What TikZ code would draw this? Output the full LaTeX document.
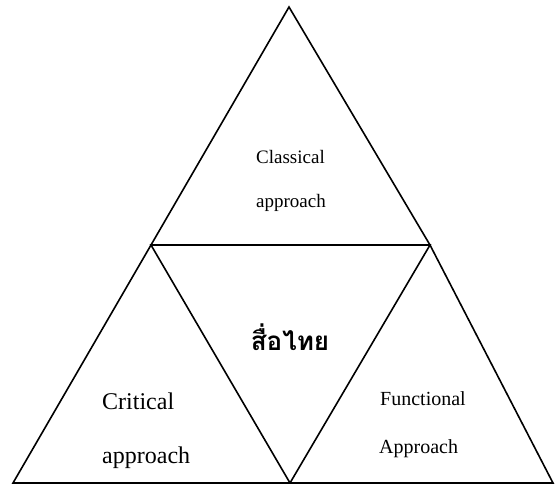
\documentclass[tikz,border=0pt]{standalone}
\usepackage{fontspec}
\setmainfont{Liberation Serif}
\newfontfamily\thaifont[Script=Thai]{Loma}
\begin{document}
\begin{tikzpicture}[x=1pt,y=-1pt,
  edge/.style={line width=1.6pt,line join=miter},
  word/.style={anchor=base west,inner sep=0pt}]
  \useasboundingbox (0,0) rectangle (555,483);

  % Corners of the triangles
  \coordinate (apex) at (289,7);
  \coordinate (midL) at (151,245);
  \coordinate (midR) at (430,245);
  \coordinate (botL) at (13,483);
  \coordinate (botM) at (290,483);
  \coordinate (botR) at (553,483);

  % Outer triangle and the inner one
  \draw[edge] (apex) -- (midL) -- (botL) -- (botR) -- (midR) -- cycle;
  \draw[edge] (midL) -- (midR) -- (botM) -- cycle;

  % Labels
  \node[word,font=\fontsize{19}{19}\selectfont] (clsA) at (256,163) {Classical};
  \node[word,font=\fontsize{19}{19}\selectfont] (clsB) at (256,207) {approach};
  \node[word,font=\fontsize{24}{24}\selectfont] (crtA) at (102,409) {Critical};
  \node[word,font=\fontsize{24}{24}\selectfont] (crtB) at (102,463) {approach};
  \node[word,font=\fontsize{20}{20}\selectfont] (fncA) at (380,405) {Functional};
  \node[word,font=\fontsize{20}{20}\selectfont] (fncB) at (379,453) {Approach};
  \node[font=\thaifont\bfseries\fontsize{26}{26}\selectfont,inner sep=0pt] (thai) at (290,337) {สื่อไทย};
\end{tikzpicture}
\end{document}
